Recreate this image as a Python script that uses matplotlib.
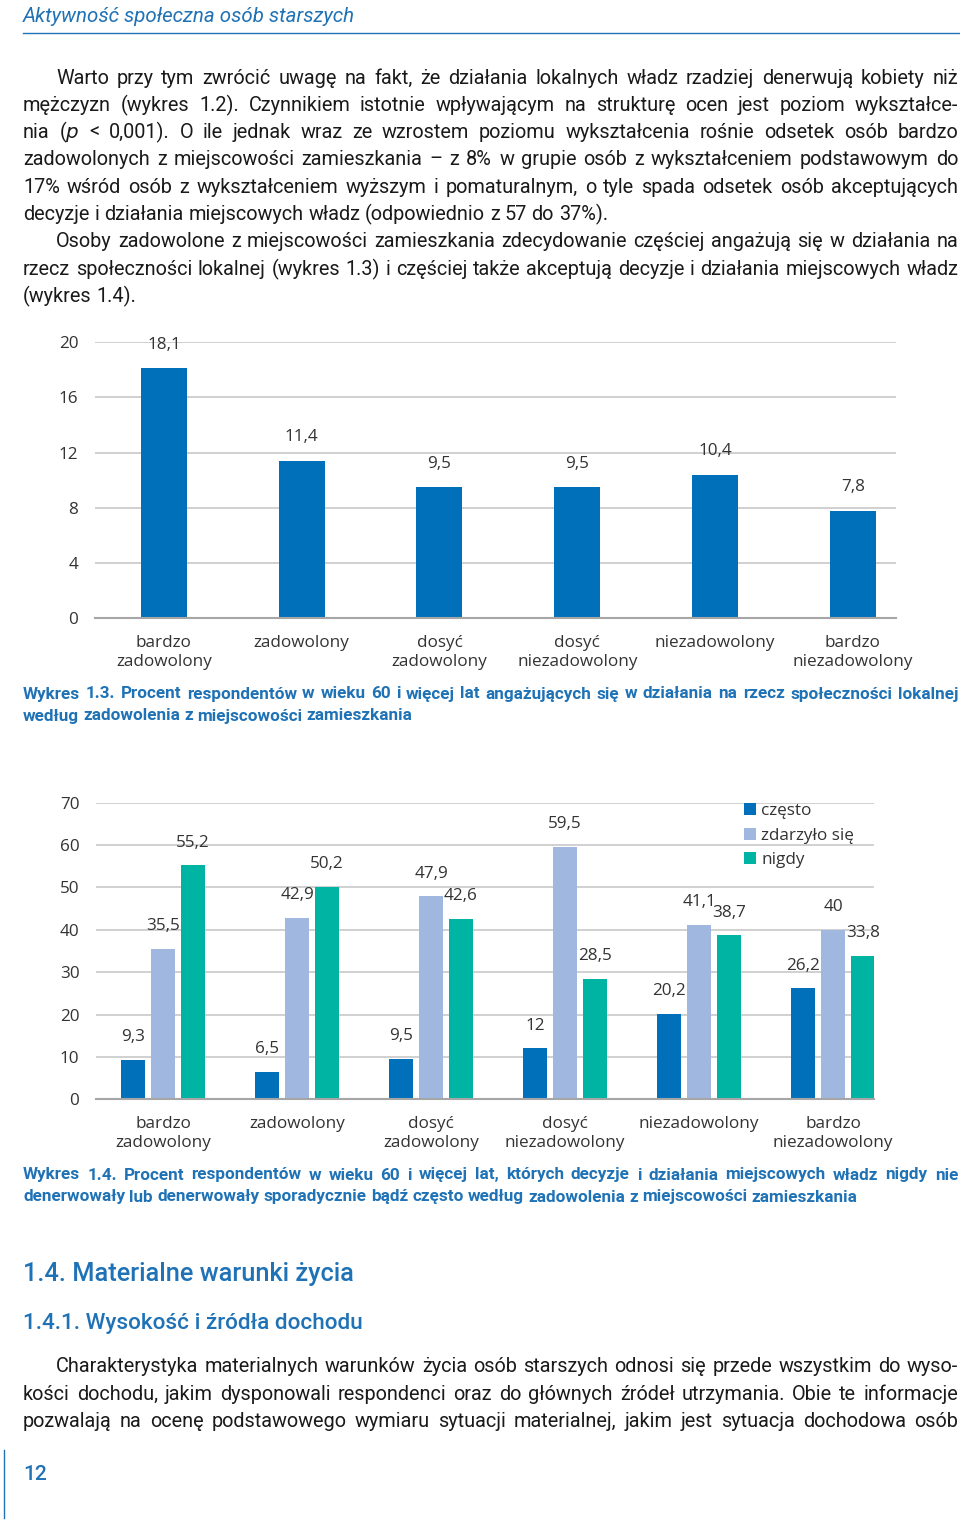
import matplotlib
matplotlib.use("Agg")
import matplotlib.pyplot as plt
import numpy as np

# ---- data ----
cats = ['bardzo\nzadowolony', 'zadowolony', 'dosyć\nzadowolony',
        'dosyć\nniezadowolony', 'niezadowolony', 'bardzo\nniezadowolony']
vals_13 = [18.1, 11.4, 9.5, 9.5, 10.4, 7.8]
series_14 = ['często', 'zdarzyło się', 'nigdy']
czesto = [9.3, 6.5, 9.5, 12, 20.2, 26.2]
zdarzylo = [35.5, 42.9, 47.9, 59.5, 41.1, 40]
nigdy = [55.2, 50.2, 42.6, 28.5, 38.7, 33.8]

W, H = 960, 1525
BLUE = '#1f72b5'
DARK = '#0070ba'
LIGHT = '#a0b8e0'
TEAL = '#00b4a4'
GRID = '#c8c8c8'
TXT = '#1a1a1a'
CTXT = '#333333'
BODY = 'Roboto'
CHART = 'Open Sans'

fig = plt.figure(figsize=(W / 100, H / 100), dpi=100)
rend = fig.canvas.get_renderer()


def fx(x):
    return x / W


def fy(y):
    return 1 - y / H


def put(x, y, s, **kw):
    return fig.text(fx(x), fy(y), s, va='center', **kw)


def justify(line, x0, x1, y, last=False, **kw):
    words = line.split(' ')
    ts = [fig.text(0, 0, w, va='center', **kw) for w in words]
    widths = [t.get_window_extent(rend).width for t in ts]
    a = fig.text(0, 0, 'x x', **kw)
    b = fig.text(0, 0, 'xx', **kw)
    space = a.get_window_extent(rend).width - b.get_window_extent(rend).width
    a.remove()
    b.remove()
    if last or len(words) == 1:
        gap = space
    else:
        gap = (x1 - x0 - sum(widths)) / (len(words) - 1)
    x = x0
    for t, w in zip(ts, widths):
        t.set_position((fx(x), fy(y)))
        x += w + gap


def paragraph(lines, x0, x1, y0, step, **kw):
    for i, (ln, indent, last) in enumerate(lines):
        justify(ln, x0 + indent, x1, y0 + i * step, last=last, **kw)


def fmt(v):
    return f'{v:g}'.replace('.', ',')


# ---- header ----
put(23, 17, 'Aktywność społeczna osób starszych', color=BLUE, fontsize=14.8,
    style='italic', family=BODY)
fig.add_artist(plt.Line2D([fx(23), 1], [fy(33), fy(33)], color=BLUE, lw=1))

body = dict(fontsize=14.3, family=BODY, color=TXT)
p1 = [
    ('Warto przy tym zwrócić uwagę na fakt, że działania lokalnych władz rzadziej denerwują kobiety niż', 33, False),
    ('mężczyzn (wykres 1.2). Czynnikiem istotnie wpływającym na strukturę ocen jest poziom wykształce-', 0, False),
    ('nia ($p$ < 0,001). O ile jednak wraz ze wzrostem poziomu wykształcenia rośnie odsetek osób bardzo', 0, False),
    ('zadowolonych z miejscowości zamieszkania – z 8% w grupie osób z wykształceniem podstawowym do', 0, False),
    ('17% wśród osób z wykształceniem wyższym i pomaturalnym, o tyle spada odsetek osób akceptujących', 0, False),
    ('decyzje i działania miejscowych władz (odpowiednio z 57 do 37%).', 0, True),
    ('Osoby zadowolone z miejscowości zamieszkania zdecydowanie częściej angażują się w działania na', 33, False),
    ('rzecz społeczności lokalnej (wykres 1.3) i częściej także akceptują decyzje i działania miejscowych władz', 0, False),
    ('(wykres 1.4).', 0, True),
]
paragraph(p1, 23, 958, 78, 27.3, **body)

# ---- wykres 1.3 ----
ax1 = fig.add_axes([fx(95), fy(618.3), (896 - 95) / W, 276.3 / H])
x = np.arange(len(cats))
ax1.bar(x, vals_13, width=0.334, color=DARK, zorder=3)
for xi, v in zip(x, vals_13):
    ax1.annotate(fmt(v), (xi, v), xytext=(0, 14), textcoords='offset points',
                 ha='center', va='baseline', fontsize=12.3, color=CTXT,
                 family=CHART, annotation_clip=False)
ax1.set_xlim(-0.5, 5.313)
ax1.set_ylim(0, 20)
ax1.set_yticks(range(0, 21, 4))
ax1.set_xticks(x)
ax1.set_xticklabels(cats, linespacing=1.25)

# ---- wykres 1.4 ----
ax2 = fig.add_axes([fx(96), fy(1099.3), (874.3 - 96) / W, 296.6 / H])
off = 0.224
bw = 0.184
cols = [DARK, LIGHT, TEAL]
for k, (name, ser) in enumerate(zip(series_14, [czesto, zdarzylo, nigdy])):
    xs = x + (k - 1) * off
    ax2.bar(xs, ser, width=bw, color=cols[k], label=name, zorder=3)
    for xi, v in zip(xs, ser):
        ax2.annotate(fmt(v), (xi, v), xytext=(0, 13.5), textcoords='offset points',
                     ha='center', va='baseline', fontsize=12.3, color=CTXT,
                     family=CHART, annotation_clip=False)
ax2.set_xlim(-0.5, 5.308)
ax2.set_ylim(0, 70)
ax2.set_yticks(range(0, 71, 10))
ax2.set_xticks(x)
ax2.set_xticklabels(cats, linespacing=1.25)
leg = ax2.legend(loc='upper left', bbox_to_anchor=(fx(744), fy(803)),
                 bbox_transform=fig.transFigure, frameon=False, borderpad=0,
                 borderaxespad=0, handlelength=0.7, handleheight=0.7,
                 handletextpad=0.3, labelspacing=0.5,
                 prop={'family': CHART, 'size': 12.3})
for t in leg.get_texts():
    t.set_color(CTXT)

for ax in (ax1, ax2):
    for s in ('top', 'right', 'left'):
        ax.spines[s].set_visible(False)
    ax.spines['bottom'].set_color('#a6a6a6')
    ax.spines['bottom'].set_linewidth(1.5)
    ax.spines['bottom'].set_zorder(4)
    ax.grid(axis='y', color=GRID, lw=1.2, zorder=0)
    ax.set_axisbelow(True)
    ax.tick_params(axis='y', length=0, pad=12, labelsize=12.3, labelcolor=CTXT)
    ax.tick_params(axis='x', length=0, pad=12, labelsize=12.3, labelcolor=CTXT)
    for t in ax.get_xticklabels() + ax.get_yticklabels():
        t.set_family(CHART)

# ---- captions ----
cap = dict(fontsize=12.3, family=BODY, color=BLUE, weight='bold')
paragraph([
    ('Wykres 1.3. Procent respondentów w wieku 60 i więcej lat angażujących się w działania na rzecz społeczności lokalnej', 0, False),
    ('według zadowolenia z miejscowości zamieszkania', 0, True),
], 23, 958, 694, 22, **cap)
paragraph([
    ('Wykres 1.4. Procent respondentów w wieku 60 i więcej lat, których decyzje i działania miejscowych władz nigdy nie', 0, False),
    ('denerwowały lub denerwowały sporadycznie bądź często według zadowolenia z miejscowości zamieszkania', 0, True),
], 23, 958, 1175, 22, **cap)

# ---- headings ----
put(23, 1274, '1.4. Materialne warunki życia', color=BLUE, fontsize=18.3,
    family=BODY, weight='medium')
put(23, 1324, '1.4.1. Wysokość i źródła dochodu', color=BLUE, fontsize=16.2,
    family=BODY, weight='medium')

paragraph([
    ('Charakterystyka materialnych warunków życia osób starszych odnosi się przede wszystkim do wyso-', 33, False),
    ('kości dochodu, jakim dysponowali respondenci oraz do głównych źródeł utrzymania. Obie te informacje', 0, False),
    ('pozwalają na ocenę podstawowego wymiaru sytuacji materialnej, jakim jest sytuacja dochodowa osób', 0, False),
], 23, 958, 1367, 27.3, **body)

# ---- footer ----
fig.add_artist(plt.Line2D([fx(4), fx(4)], [fy(1450), fy(1518)], color=BLUE, lw=1))
put(23, 1475, '12', color=BLUE, fontsize=15, family=BODY, weight='medium')

fig.savefig('out.png', dpi=100)
